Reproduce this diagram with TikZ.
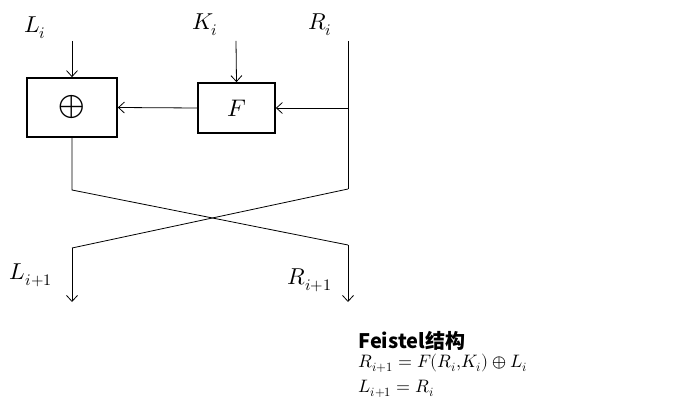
\documentclass[tikz,border=0pt]{standalone}
\usepackage{fontspec}
\usepackage{unicode-math}
\setmathfont{Latin Modern Math}
\newfontfamily\cjk{Noto Sans CJK SC}
\usetikzlibrary{arrows.meta}
\begin{document}
\begin{tikzpicture}[x=1pt,y=-1pt,line width=0.8pt,
  >={Straight Barb[length=6pt,width=11pt]},
  box/.style={draw,line width=1.7pt,inner sep=0pt},
  lbl/.style={inner sep=0pt,font=\fontsize{23}{27}\selectfont},
  eq/.style={inner sep=0pt,anchor=base west,font=\fontsize{18}{22}\selectfont}]
\useasboundingbox (0,0) rectangle (687,403);
\node[box,minimum width=90pt,minimum height=59pt,font=\fontsize{34}{36}\selectfont] (xor) at (72,107.5) {$\oplus$};
\node[box,minimum width=77pt,minimum height=50pt,font=\fontsize{24}{26}\selectfont] (f) at (236.5,108) {$F$};
\coordinate (lt) at (72,41);
\coordinate (kt) at (236,41);
\coordinate (rt) at (348,41);
\coordinate (rm) at (348,108);
\coordinate (rb) at (348,189);
\coordinate (lb) at (72,190);
\coordinate (lc) at (72,248);
\coordinate (rc) at (348,245);
\coordinate (lend) at (72,302);
\coordinate (rend) at (348,302);
\draw[->] (lt) -- (xor.north);
\draw[->] (kt) -- (f.north);
\draw (rt) -- (rb);
\draw[->] (rm) -- (f.east);
\draw[->] (f.west) -- (xor.east);
\draw (xor.south) -- (lb) -- (rc);
\draw[->] (rc) -- (rend);
\draw (rb) -- (lc);
\draw[->] (lc) -- (lend);
\node[lbl] (li) at (35,28) {$L_i$};
\node[lbl] (ki) at (205,25) {$K_i$};
\node[lbl] (ri) at (320,25) {$R_i$};
\node[lbl] (li1) at (31,275) {$L_{i+1}$};
\node[lbl] (ri1) at (310,280) {$R_{i+1}$};
\node[inner sep=0pt,anchor=base west,font=\cjk\bfseries\fontsize{20}{24}\selectfont] (title) at (358,348) {Feistel结构};
\node[eq] (eq1) at (358,367) {$R_{i+1}=F(R_i{,}K_i)\oplus L_i$};
\node[eq] (eq2) at (358,392) {$L_{i+1}=R_i$};
\end{tikzpicture}
\end{document}
